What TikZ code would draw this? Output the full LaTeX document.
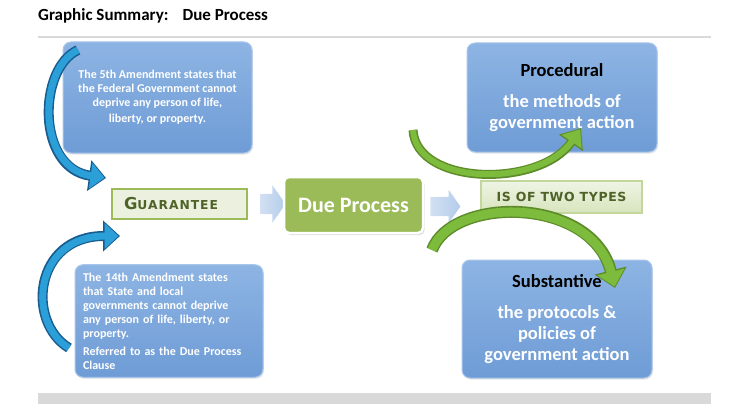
\documentclass[tikz,border=0pt]{standalone}
\usepackage{fontspec}
\setmainfont{Carlito}
\newfontfamily\capsfont{DejaVu Sans}
\usetikzlibrary{shapes.arrows,arrows.meta,shadows}

\definecolor{boxtop}{HTML}{8DB4E3}
\definecolor{boxbottom}{HTML}{6F9CD6}
\definecolor{boxedge}{HTML}{A9C6EC}
\definecolor{duegreen}{HTML}{9BBB59}
\definecolor{paleleaf}{HTML}{EBF1DE}
\definecolor{typesleaf}{HTML}{D7E4BD}
\definecolor{typesedge}{HTML}{C3D69B}
\definecolor{darkleaf}{HTML}{4F6228}
\definecolor{chevronblue}{HTML}{B4CCEA}
\definecolor{curveblue}{HTML}{2A9FD8}
\definecolor{curvebluedark}{HTML}{1B5C8F}
\definecolor{curvegreen}{HTML}{7DBB3C}
\definecolor{curvegreendark}{HTML}{5E8C2A}
\definecolor{rulegray}{HTML}{D9D9D9}

\tikzset{
  bluebox/.style={rounded corners=8pt, draw=boxedge, line width=1pt,
    top color=boxtop, bottom color=boxbottom, text=white,
    drop shadow={opacity=0.2, shadow xshift=1pt, shadow yshift=-1.5pt}},
  smalltext/.style={font=\bfseries\fontsize{12}{14}\selectfont},
  bigtext/.style={font=\bfseries\fontsize{18.5}{21}\selectfont},
  leafbox/.style={draw=duegreen, line width=2pt, fill=paleleaf, text=darkleaf},
  chevron/.style={single arrow, left color=chevronblue!60!white, right color=chevronblue,
    draw=none, inner ysep=10pt, inner xsep=3pt, single arrow tip angle=110},
  bluecurve/.style={line width=#1, line cap=butt},
  greencurve/.style={line width=#1, line cap=butt}
}

\begin{document}
\begin{tikzpicture}[x=1pt, y=-1pt]
    \useasboundingbox (0,0) rectangle (738,417);

    % Titre et filets
    \node[anchor=base west, inner sep=0pt, font=\bfseries\fontsize{17}{18}\selectfont] (title) at (38,21)
        {Graphic Summary:\hspace*{14pt}Due Process};
    \draw[rulegray, line width=2.5pt] (38,37) -- (711,37);
    \fill[rulegray] (38,393) rectangle (711,404);

    % Amendements
    \node[bluebox, smalltext, minimum width=189pt, minimum height=111pt, align=center] (fifth) at (157.5,97.5)
        {The 5th Amendment states that\\the Federal Government cannot\\deprive any person of life,\\[2pt]liberty, or property.};
    \node[bluebox, smalltext, text width=172pt, inner sep=8pt, minimum height=112pt, align=left] (fourteenth) at (169,321)
        {The 14th Amendment states\\that State and local\\governments cannot deprive\\any person of life, liberty, or\\property.\\[4pt]Referred to as the Due Process\\Clause};

    % Chaine centrale
    \node[leafbox, inner xsep=12pt, text width=111pt, align=left, minimum height=30pt] (guarantee) at (179.5,204)
        {\capsfont\bfseries\addfontfeature{LetterSpace=8}{\fontsize{16.4}{16}\selectfont G}{\fontsize{12.3}{13}\selectfont UARANTEE}};
    \node[chevron, minimum width=37pt, minimum height=25pt, single arrow head extend=8.5pt] (chevA) at (269.5,204) {};
    \node[rounded corners=5pt, draw=white, line width=2.5pt, fill=duegreen, text=white,
          minimum width=139pt, minimum height=56pt,
          drop shadow={opacity=0.3, shadow xshift=1.5pt, shadow yshift=-2pt},
          font=\bfseries\fontsize{22}{24}\selectfont] (dueproc) at (353.5,205) {Due Process};
    \node[chevron, inner ysep=9.5pt, minimum width=33pt, minimum height=30pt, single arrow head extend=7pt] (chevB) at (442,206.5) {};
    \node[draw=typesedge, line width=1.5pt, top color=typesleaf!40!white, bottom color=typesleaf, text=darkleaf,
          minimum width=161pt, minimum height=32pt,
          drop shadow={opacity=0.15, shadow xshift=1pt, shadow yshift=-1pt},
          font=\capsfont\bfseries\fontsize{12.5}{13}\selectfont] (twotypes) at (561.5,197)
        {\addfontfeature{LetterSpace=5}IS OF TWO TYPES};

    % Deux types
    \node[bluebox, bigtext, minimum width=190pt, minimum height=109pt, align=center] (procedural) at (562,97.5)
        {\textcolor{black}{Procedural}\\[10pt]the methods of\\government action};
    \node[bluebox, bigtext, minimum width=190pt, minimum height=118pt, align=center] (substantive) at (557,319)
        {\textcolor{black}{Substantive}\\[10pt]the protocols \&\\policies of\\government action};

    % Fleches courbes
    \coordinate (fifthTail) at (78,50);
    \coordinate (guarTop) at (106,178);
    \coordinate (fourTail) at (69,348);
    \coordinate (guarBot) at (120,236);
    \coordinate (procTail) at (413,130);
    \coordinate (procHead) at (581,128);
    \coordinate (subTail) at (432,250);
    \coordinate (subHead) at (615,288);

    \draw[bluecurve=10pt, curvebluedark, -{Triangle[width=30pt,length=17pt]}]
        (fifthTail) .. controls (38,68) and (36,168) .. (guarTop);
    \draw[bluecurve=7pt, curveblue, shorten >=1.5pt, -{Triangle[width=25pt,length=14pt]}]
        (fifthTail) .. controls (38,68) and (36,168) .. (guarTop);
    \draw[bluecurve=10pt, curvebluedark, -{Triangle[width=30pt,length=17pt]}]
        (fourTail) .. controls (26,322) and (34,236) .. (guarBot);
    \draw[bluecurve=7pt, curveblue, shorten >=1.5pt, -{Triangle[width=25pt,length=14pt]}]
        (fourTail) .. controls (26,322) and (34,236) .. (guarBot);

    \draw[greencurve=9pt, curvegreendark, -{Triangle[width=28pt,length=18pt]}]
        (procTail) .. controls (416,186) and (540,188) .. (procHead);
    \draw[greencurve=6pt, curvegreen, shorten >=1.5pt, -{Triangle[width=23pt,length=15pt]}]
        (procTail) .. controls (416,186) and (540,188) .. (procHead);
    \draw[greencurve=12pt, curvegreendark, -{Triangle[width=32pt,length=18pt]}]
        (subTail) .. controls (452,196) and (592,196) .. (subHead);
    \draw[greencurve=9pt, curvegreen, shorten >=1.5pt, -{Triangle[width=27pt,length=15pt]}]
        (subTail) .. controls (452,196) and (592,196) .. (subHead);
\end{tikzpicture}
\end{document}
